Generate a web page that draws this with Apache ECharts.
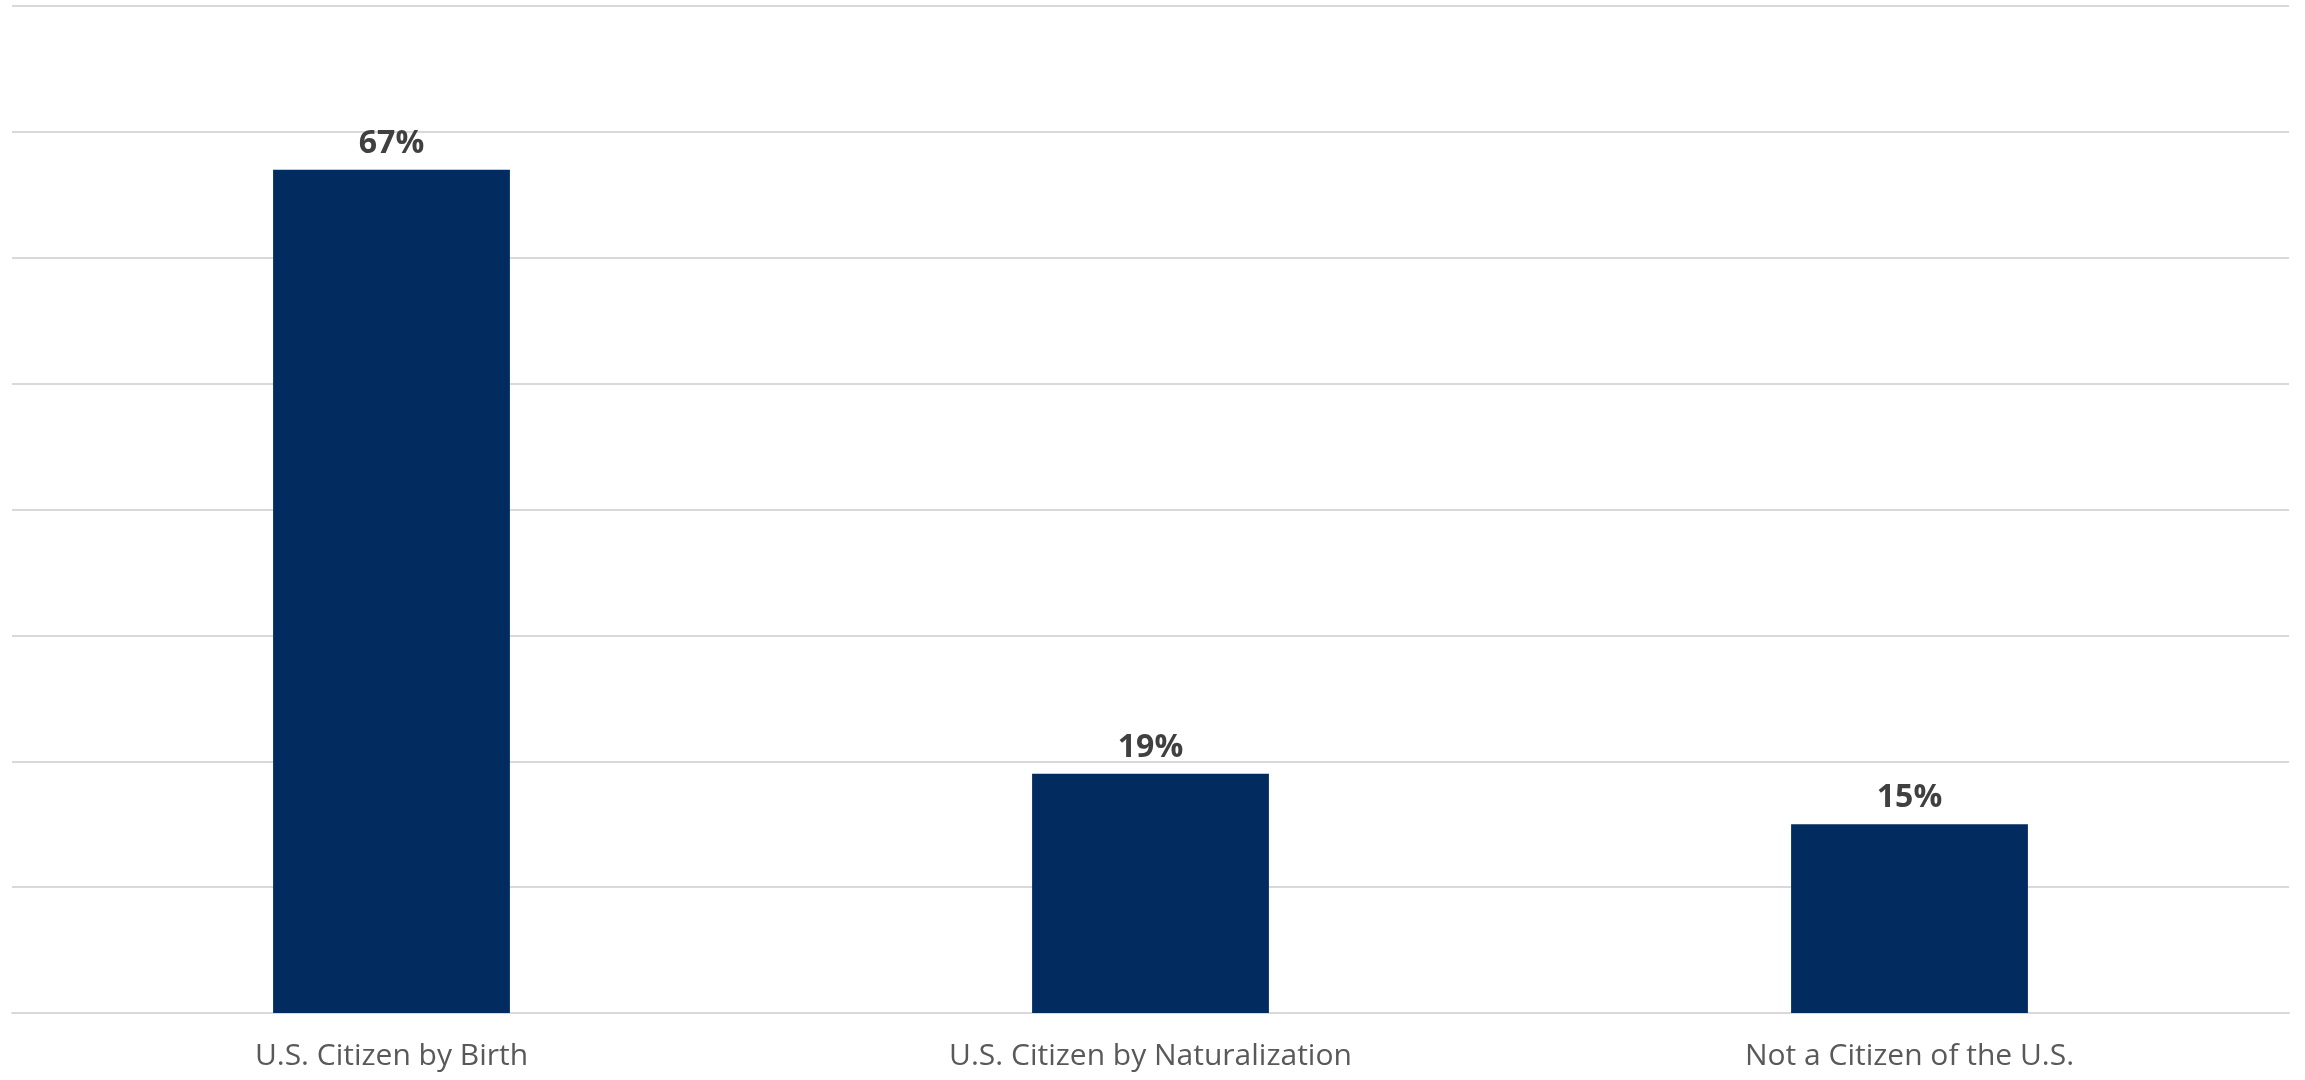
<!DOCTYPE html>
<html>
<head>
<meta charset="utf-8">
<script src="https://cdn.jsdelivr.net/npm/echarts@6/dist/echarts.min.js"></script>
<style>
html,body{margin:0;padding:0;background:#fff;}
#c{width:2305px;height:1080px;}
</style>
</head>
<body>
<div id="c"></div>
<script>
const categories = ["U.S. Citizen by Birth", "U.S. Citizen by Naturalization", "Not a Citizen of the U.S."];
const values = [67, 19, 15];
const yMin = 0, yMax = 80, yStep = 10;

const chart = echarts.init(document.getElementById('c'), null, {renderer: 'canvas'});
chart.setOption({
  animation: false,
  backgroundColor: '#ffffff',
  grid: {left: 12, right: 16, top: 6, bottom: 67, containLabel: false},
  xAxis: {
    type: 'category',
    data: categories,
    axisTick: {show: false},
    axisLine: {lineStyle: {color: '#d9d9d9', width: 2}},
    axisLabel: {color: '#595959', fontSize: 30, fontFamily: 'Open Sans', margin: 28}
  },
  yAxis: {
    type: 'value', min: yMin, max: yMax, interval: yStep,
    axisLabel: {show: false},
    axisLine: {show: false},
    axisTick: {show: false},
    splitLine: {lineStyle: {color: '#d9d9d9', width: 2}}
  },
  series: [{
    type: 'bar',
    data: values,
    barWidth: '31.2%',
    itemStyle: {color: '#022b5f'},
    label: {
      show: true, position: 'top', distance: 10,
      formatter: p => p.value + '%',
      color: '#404040', fontSize: 32, fontWeight: 'bold', fontFamily: 'Open Sans'
    }
  }]
});
</script>
</body>
</html>
